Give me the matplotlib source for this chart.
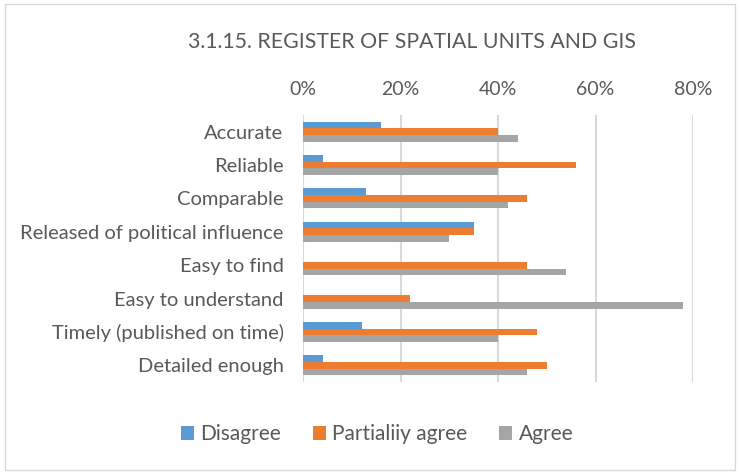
import matplotlib.pyplot as plt
import numpy as np
from matplotlib.patches import Rectangle
from matplotlib.ticker import PercentFormatter

categories = ['Accurate', 'Reliable', 'Comparable', 'Released of political influence',
              'Easy to find', 'Easy to understand', 'Timely (published on time)', 'Detailed enough']
disagree = [0.16, 0.04, 0.13, 0.35, 0.0, 0.0, 0.12, 0.04]
partially = [0.40, 0.56, 0.46, 0.35, 0.46, 0.22, 0.48, 0.50]
agree = [0.44, 0.40, 0.42, 0.30, 0.54, 0.78, 0.40, 0.46]
series = ['Disagree', 'Partialiiy agree', 'Agree']
colors = ['#5b9bd5', '#ed7d31', '#a5a5a5']

plt.rcParams['font.family'] = ['Lato', 'DejaVu Sans']
txt = '#595959'

fig = plt.figure(figsize=(7.4, 4.74), dpi=100)
ax = fig.add_axes([303/740, 1 - 382/474, 390/740, 267/474])

y = np.arange(len(categories))
h = 0.2
for i, (vals, name, c) in enumerate(zip([disagree, partially, agree], series, colors)):
    ax.barh(y + (i - 1) * h, vals, height=h, color=c, label=name)

ax.set_xlim(0, 0.8)
ax.set_ylim(len(categories) - 0.5, -0.5)
ax.set_xticks([0, 0.2, 0.4, 0.6, 0.8])
ax.xaxis.set_major_formatter(PercentFormatter(1.0, decimals=0))
ax.xaxis.tick_top()
ax.set_yticks(y)
ax.set_yticklabels(categories)
ax.tick_params(axis='both', length=0, colors=txt, labelsize=14)
ax.tick_params(axis='y', labelsize=14.5, pad=14)
ax.tick_params(axis='x', pad=12)
for s in ax.spines.values():
    s.set_visible(False)
ax.grid(axis='x', color='#d9d9d9', linewidth=1.5)
ax.set_axisbelow(True)

fig.text(412/740, 1 - 42/474, '3.1.15. REGISTER OF SPATIAL UNITS AND GIS',
         ha='center', va='center', fontsize=15.3, color=txt)

fig.legend(loc='center', bbox_to_anchor=(377/740, 1 - 434/474), ncol=3, frameon=False,
           fontsize=15, labelcolor=txt, handlelength=0.65, handleheight=0.65,
           handletextpad=0.3, columnspacing=1.5)

fig.patches.append(Rectangle((5/740, 4/474), 730/740, 466/474, transform=fig.transFigure,
                             fill=False, edgecolor='#d9d9d9', linewidth=1))

fig.savefig('out.png', dpi=100)
